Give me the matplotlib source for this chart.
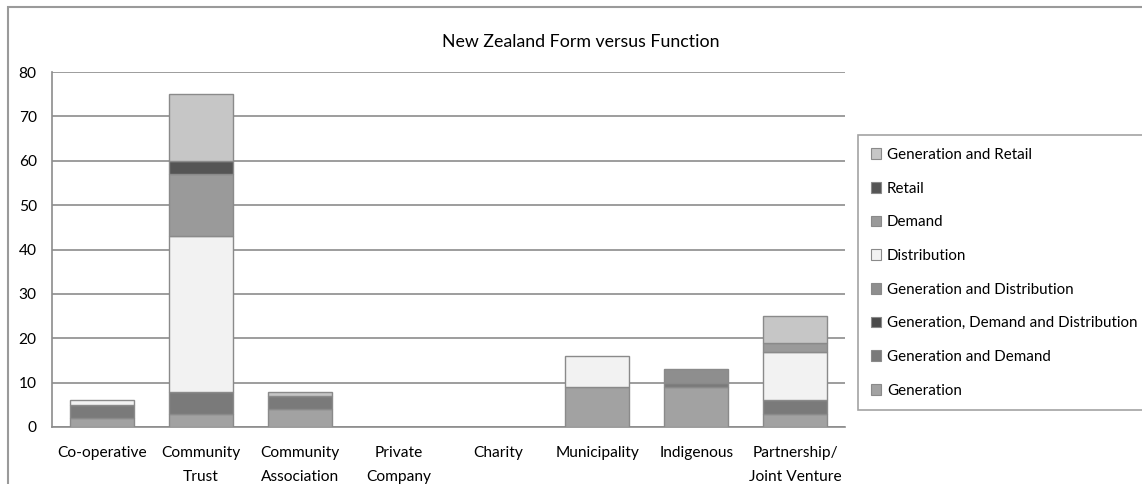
import numpy as np
import matplotlib
matplotlib.use("Agg")
import matplotlib.pyplot as plt
from matplotlib.patches import Rectangle, Patch

plt.rcParams['font.family'] = ['Lato', 'DejaVu Sans']

categories = ['Co-operative', 'Community\nTrust', 'Community\nAssociation', 'Private\nCompany',
              'Charity', 'Municipality', 'Indigenous', 'Partnership/\nJoint Venture']

series_names = ['Generation', 'Generation and Demand', 'Generation, Demand and Distribution',
                'Generation and Distribution', 'Distribution', 'Demand', 'Retail',
                'Generation and Retail']

generation        = [2, 3, 4, 0, 0, 9, 9, 3]
gen_demand        = [3, 5, 3, 0, 0, 0, 1, 3]
gen_demand_dist   = [0, 0, 0, 0, 0, 0, 0, 0]
gen_distribution  = [0, 0, 0, 0, 0, 0, 3, 0]
distribution      = [1, 35, 0, 0, 0, 7, 0, 11]
demand            = [0, 14, 0, 0, 0, 0, 0, 2]
retail            = [0, 3, 0, 0, 0, 0, 0, 0]
gen_retail        = [0, 15, 1, 0, 0, 0, 0, 6]

series_values = [generation, gen_demand, gen_demand_dist, gen_distribution,
                 distribution, demand, retail, gen_retail]
colors = ['#a2a2a2', '#7a7a7a', '#4a4a4a', '#8e8e8e', '#f2f2f2', '#9a9a9a', '#555555', '#c6c6c6']

fig = plt.figure(figsize=(11.42, 4.84), dpi=100)
ax = fig.add_axes([52/1142, 1-427/484, (845-52)/1142, (427-72)/484])

x = np.arange(len(categories))
bottom = np.zeros(len(categories))
for name, vals, col in zip(series_names, series_values, colors):
    v = np.array(vals, dtype=float)
    lw = np.where(v > 0, 1.0, 0.0)
    ax.bar(x, v, bottom=bottom, width=0.645, color=col, edgecolor='#8a8a8a',
           linewidth=lw, label=name, zorder=3)
    bottom += v

ax.set_xlim(-0.5, len(categories) - 0.5)
ax.set_ylim(0, 80)
ax.set_yticks(np.arange(0, 81, 10))
ax.set_xticks(x)
ax.set_xticklabels(categories, fontsize=11.2, linespacing=1.9)
ax.tick_params(axis='both', length=0, labelsize=11.2, colors='black')
ax.tick_params(axis='y', pad=11)
ax.tick_params(axis='x', pad=14)
ax.grid(axis='y', color='#8c8c8c', linewidth=1.2, zorder=0)
for s in ['top', 'right']:
    ax.spines[s].set_visible(False)
for s in ['left', 'bottom']:
    ax.spines[s].set_color('#8c8c8c')
    ax.spines[s].set_linewidth(1.2)

fig.text(581/1142, 1-42/484, 'New Zealand Form versus Function', ha='center', va='center',
         fontsize=12.8)

handles = [Patch(facecolor=c, edgecolor='#8a8a8a', linewidth=0.8) for c in colors]
leg = fig.legend(handles[::-1], series_names[::-1], loc='upper left',
                 bbox_to_anchor=(858/1142, 1-135/484), frameon=True, fancybox=False,
                 fontsize=10.9, labelspacing=1.3, handlelength=0.7, handleheight=0.7,
                 handletextpad=0.35, borderpad=0.85, borderaxespad=0)
leg.get_frame().set_edgecolor('#8c8c8c')
leg.get_frame().set_linewidth(1.2)

fig.patches.append(Rectangle((8/1142, -0.1), 1.2, 1 - 7/484 + 0.1, transform=fig.transFigure,
                             fill=False, edgecolor='#9a9a9a', linewidth=1.5))

fig.savefig('out.png', dpi=100)
